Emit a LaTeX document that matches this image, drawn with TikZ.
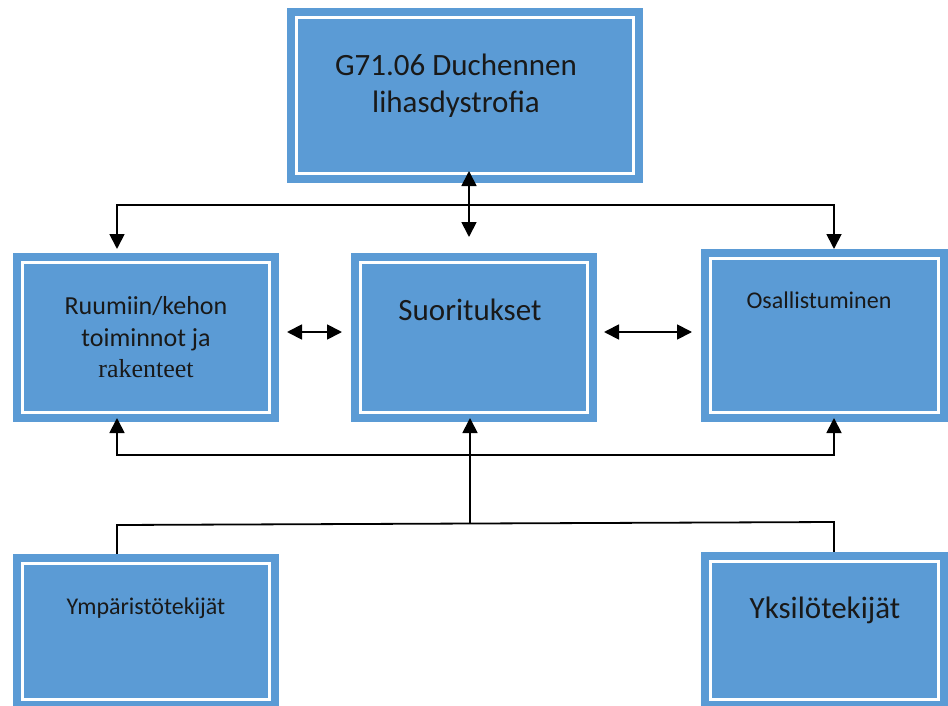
\documentclass[tikz,border=0pt]{standalone}
\usepackage{fontspec}
\setmainfont{Carlito}
\newfontfamily\serifpart{Liberation Serif}
\usetikzlibrary{arrows.meta}
\definecolor{boxblue}{HTML}{5B9BD5}
\tikzset{
  icfbox/.style={rectangle, fill=boxblue, draw=none, inner sep=0pt,
    path picture={\draw[white, line width=3.5pt]
      ([shift={(9.5pt,-9.5pt)}]path picture bounding box.north west) rectangle
      ([shift={(-9.5pt,9.5pt)}]path picture bounding box.south east);}},
  lbl/.style={anchor=base, align=center, inner sep=0pt, text=black!90},
  conn/.style={line width=1.8pt, line join=miter},
  tip/.style={-{Triangle[length=15pt,width=15pt]}},
  tips/.style={{Triangle[length=15pt,width=15pt]}-{Triangle[length=15pt,width=15pt]}}
}
\begin{document}
\begin{tikzpicture}[x=1pt,y=-1pt]
\useasboundingbox (0,0) rectangle (948,706);

% boxes
\node[icfbox, minimum width=356pt, minimum height=175pt] (diag) at (465,95.5) {};
\node[icfbox, minimum width=266pt, minimum height=169pt] (body) at (146,337.5) {};
\node[icfbox, minimum width=246pt, minimum height=169pt] (act) at (474,337.5) {};
\node[icfbox, minimum width=247pt, minimum height=173pt] (part) at (824.5,335.5) {};
\node[icfbox, minimum width=266pt, minimum height=155pt] (env) at (146,631.5) {};
\node[icfbox, minimum width=247pt, minimum height=157pt] (pers) at (824.5,630.5) {};

% texts (base anchor sits on the last line)
\node[lbl, font=\fontsize{31}{37}\selectfont] (tdiag) at (456,113)
  {G71.06 Duchennen\\lihasdystrofia};
\node[lbl, font=\fontsize{26}{32}\selectfont] (tbody) at (146,377)
  {Ruumiin/kehon\\toiminnot ja\\[-1pt]{\serifpart rakenteet}};
\node[lbl, font=\fontsize{31}{37}\selectfont] (tact) at (470,320) {Suoritukset};
\node[lbl, font=\fontsize{24}{29}\selectfont] (tpart) at (819,308) {Osallistuminen};
\node[lbl, font=\fontsize{24}{29}\selectfont] (tenv) at (146,614) {Ympäristötekijät};
\node[lbl, font=\fontsize{31}{37}\selectfont] (tpers) at (825,618) {Yksilötekijät};

% junction points
\coordinate (dA) at (469,171);
\coordinate (dB) at (469,237);
\coordinate (hL) at (117,205);
\coordinate (hR) at (834,205);
\coordinate (aL) at (117,249);
\coordinate (aR) at (834,249);
\coordinate (m1a) at (287,332);
\coordinate (m1b) at (342,332);
\coordinate (m2a) at (604,332);
\coordinate (m2b) at (692,332);
\coordinate (fL) at (117,455);
\coordinate (fR) at (834,455);
\coordinate (uL) at (117,418);
\coordinate (uR) at (834,418);
\coordinate (uM) at (470,418);
\coordinate (gL) at (117,525);
\coordinate (gM) at (470,523.5);
\coordinate (gR) at (834,522);

% connectors
\draw[conn, tips] (dA) -- (dB);
\draw[conn, tips] (aL) -- (hL) -- (hR) -- (aR);
\draw[conn, tips] (m1a) -- (m1b);
\draw[conn, tips] (m2a) -- (m2b);
\draw[conn, tips] (uL) -- (fL) -- (fR) -- (uR);
\draw[conn, tip] (gM) -- (uM);
\draw[conn] (env.north -| gL) -- (gL) -- (gR) -- (pers.north -| gR);
\end{tikzpicture}
\end{document}
